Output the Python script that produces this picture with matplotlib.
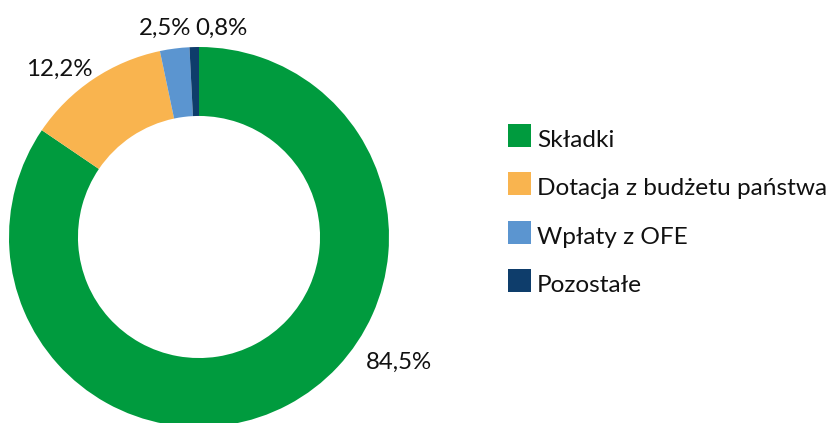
import matplotlib
matplotlib.use("Agg")
import matplotlib.pyplot as plt
from matplotlib.patches import Rectangle

categories = ["Składki", "Dotacja z budżetu państwa", "Wpłaty z OFE", "Pozostałe"]
values = [84.5, 12.2, 2.5, 0.8]
value_labels = ["84,5%", "12,2%", "2,5%", "0,8%"]
colors = ["#009B3E", "#F9B44F", "#5B95D0", "#0E3D6B"]

# label anchor positions (data units, radius = 1)
label_pos = [(1.05, -0.695), (-0.735, 0.847), (-0.18, 1.063), (0.12, 1.063)]

plt.rcParams['font.family'] = ['Lato', 'DejaVu Sans']

W, H = 830, 423
fig = plt.figure(figsize=(W / 100, H / 100), dpi=100)

cx, cy, R = 199, 237, 190  # pixel centre and radius
ax = fig.add_axes([(cx - R) / W, (H - cy - R) / H, 2 * R / W, 2 * R / H])

wedges, _ = ax.pie(values, colors=colors, startangle=90, counterclock=False,
                   radius=1, wedgeprops=dict(width=0.363, edgecolor='none'),
                   frame=False)
ax.set_xlim(-1, 1)
ax.set_ylim(-1, 1)
ax.set_aspect('equal')
ax.axis('off')
for w in wedges:
    w.set_clip_on(False)

for lab, (x, y) in zip(value_labels, label_pos):
    ax.text(x, y, lab, ha='center', va='baseline', fontsize=17.3, color='#111111',
            clip_on=False)

# legend
sq = 23
x0 = 508
tops = [124, 172, 221, 269]
for cat, col, t in zip(categories, colors, tops):
    fig.patches.append(Rectangle((x0 / W, (H - t - sq) / H), sq / W, sq / H,
                                 transform=fig.transFigure, facecolor=col,
                                 edgecolor='none'))
    fig.text(537 / W, (H - t - sq) / H, cat, ha='left', va='baseline',
             fontsize=17.6, color='#111111')

fig.savefig("out.png", dpi=100)
